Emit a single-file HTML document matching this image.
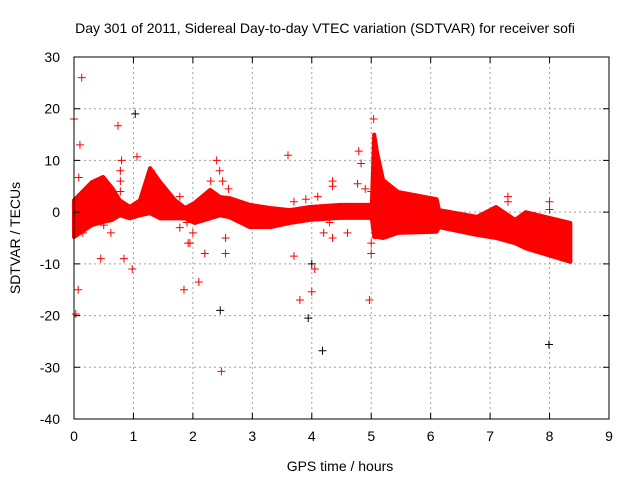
<!DOCTYPE html>
<html><head><meta charset="utf-8"><style>
body{margin:0;background:#fff}
svg text{font-family:"Liberation Sans",sans-serif;font-size:14px;fill:#000}
</style></head><body>
<svg id="chart" width="640" height="480" viewBox="0 0 640 480" xmlns="http://www.w3.org/2000/svg">
<rect width="640" height="480" fill="#fff"/>
<text x="325" y="33" text-anchor="middle">Day 301 of 2011, Sidereal Day-to-day VTEC variation (SDTVAR) for receiver sofi</text>
<g id="grid"></g><g id="band"></g><g id="pts"></g><g id="axes"></g>
<text x="340" y="471" text-anchor="middle">GPS time / hours</text>
<text x="20" y="238" text-anchor="middle" transform="rotate(-90 20 238)">SDTVAR / TECUs</text>
</svg>
<script>
const xTicks=[0,1,2,3,4,5,6,7,8,9];
const yTicks=[-40,-30,-20,-10,0,10,20,30];
const bandTime=[0,0.3,0.49,0.64,0.77,0.94,1.11,1.28,1.45,1.70,1.87,2.03,2.29,2.46,2.62,2.96,3.30,3.63,3.97,4.48,4.81,5.01,5.05,5.10,5.20,5.45,6.10,6.14,6.78,7.10,7.42,7.60,8.35];
const bandHigh=[2.3,5.8,6.8,4.7,2.3,1,2.3,8.5,5.8,2.3,0.8,1.8,4.3,2.9,2.7,1.4,0.8,0.4,1,1.4,1.4,1.4,15,11.4,6.2,3.9,2.5,0.4,-0.9,1,-1.5,0,-2.1];
const bandLow=[-4.8,-2.5,-1.9,-1.5,-0.6,-1.2,-0.6,-0.2,-1.2,-1.2,-1.2,-2.1,-1.2,-0.6,-1,-2.9,-2.9,-2.1,-1.5,-1.1,-1.1,-1.1,-4.8,-4.8,-5,-4,-3.8,-2.9,-4.4,-5,-6,-7,-9.6];
const redT=[0,0.13,0.1,0.08,0.07,0.03,0.74,1.06,0.45,0.84,0.98,1.85,2.1,2.48,3.6,3.8,4.0,4.05,4.79,4.97,5.04,8.0,4.77,4.35,4.83,2.4,1.3,0.8,2.6,3.7,4.2,4.3,2.2,1.95,
 0.78,0.78,0.78,2.45,2.5,2.55,2.55,1.9,2.0,1.92,5.0,5.0,4.35,4.35,3.7,3.9,4.1,4.6,0.15,0.2,0.5,7.3,7.3,8.0,5.0,4.9,1.78,1.78,0.62,2.3];
const redV=[18,26,13,6.7,-15,-19.7,16.7,10.7,-9,-9,-11,-15,-13.5,-30.8,11,-17,-15.4,-11,11.8,-17,18,2,5.5,6,9.4,10,8,10,4.5,-8.5,-4,-2,-8,-6,
 8,6,4,8,6,-5,-8,-2,-4,-6,-6,-8,5,-5,2,2.5,3,-4,-4,3.5,-2.5,2,3,0.5,4,4.5,3,-3,-4,6];
const blackT=[1.03,2.46,3.94,4.18,7.99,4.0];
const blackV=[19,-19,-20.5,-26.8,-25.6,-10];
const X0=74,X1=609,Y0=57,Y1=419;
const xs=t=>X0+(t-0)/9*(X1-X0);
const ys=v=>Y0+(30-v)/70*(Y1-Y0);
const NS="http://www.w3.org/2000/svg";
function mk(tag,attrs,parent){const e=document.createElementNS(NS,tag);for(const k in attrs)e.setAttribute(k,attrs[k]);parent.appendChild(e);return e;}
const grid=document.getElementById('grid'),axes=document.getElementById('axes'),band=document.getElementById('band'),pts=document.getElementById('pts');
xTicks.forEach(t=>{
 if(t>0&&t<9){const l=mk('line',{x1:xs(t),x2:xs(t),y1:Y0,y2:Y1,stroke:'#a0a0a0','stroke-dasharray':'2,3'},grid);
 
 }
 const tk=mk('path',{d:`M${xs(t)},${Y1}v-6M${xs(t)},${Y0}v6`,stroke:'#000'},axes);
 
 
 const tx=mk('text',{x:xs(t),y:Y1+22,'text-anchor':'middle'},axes);tx.textContent=t;
 
 
});
yTicks.forEach(v=>{
 if(v>-40&&v<30){const l=mk('line',{x1:X0,x2:X1,y1:ys(v),y2:ys(v),stroke:'#a0a0a0','stroke-dasharray':'2,3'},grid);
 
 }
 const tk=mk('path',{d:`M${X0},${ys(v)}h6M${X1},${ys(v)}h-6`,stroke:'#000'},axes);
 
 
 const tx=mk('text',{x:X0-14,y:ys(v)+5,'text-anchor':'end'},axes);tx.textContent=v;
 
 
});
const fr=mk('rect',{x:X0,y:Y0,width:X1-X0,height:Y1-Y0,fill:'none',stroke:'#000'},axes);


let d='';
bandTime.forEach((t,i)=>{d+=(i?'L':'M')+xs(t)+','+ys(bandHigh[i]);});
for(let i=bandTime.length-1;i>=0;i--)d+='L'+xs(bandTime[i])+','+ys(bandLow[i]);
const poly=mk('path',{d:d+'Z',fill:'#ff0000',stroke:'#ff0000','stroke-width':4,'stroke-linejoin':'round'},band);


function plus(t,v,c,name){const p=mk('path',{d:`M${xs(t)-4},${ys(v)}h8M${xs(t)},${ys(v)-4}v8`,stroke:c,'stroke-width':1},pts);
 
 }
redT.forEach((t,i)=>plus(t,redV[i],'#ff0000','sdtvar-point'));
blackT.forEach((t,i)=>plus(t,blackV[i],'#000','sdtvar-point-black'));
</script>
</body></html>
